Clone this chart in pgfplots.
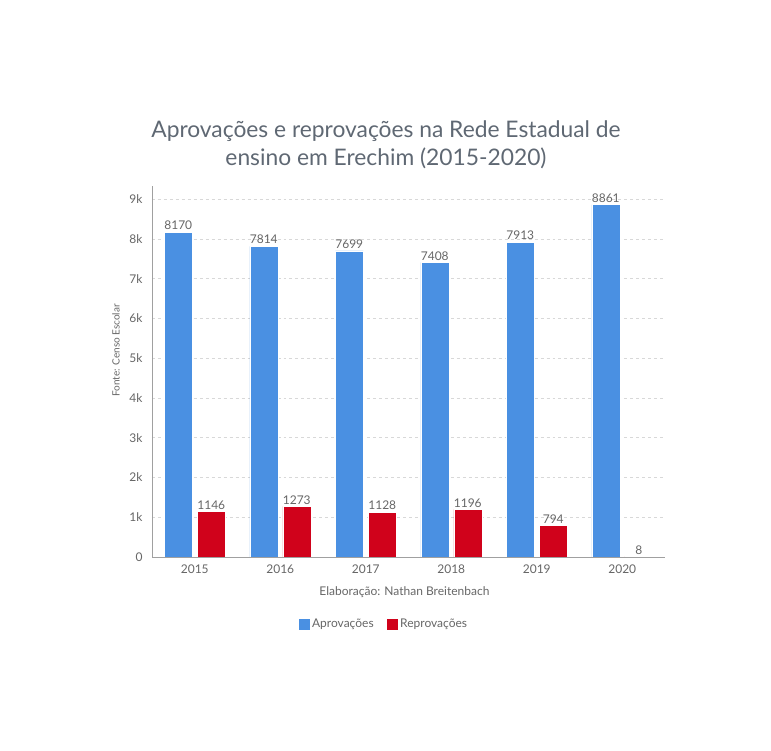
\documentclass[border=0pt]{standalone}
\usepackage{pgfplots}
\pgfplotsset{compat=1.18}
\usepackage{fontspec}
\setmainfont{Lato}
\definecolor{cblue}{HTML}{4A90E2}
\definecolor{cred}{HTML}{D0021B}
\definecolor{ctext}{HTML}{666666}
\definecolor{ctitle}{HTML}{5F6873}
\definecolor{cgrid}{HTML}{D8D8D8}
\definecolor{caxis}{HTML}{A0A0A0}
\begin{document}
\begin{tikzpicture}
\useasboundingbox (0,0) rectangle (771bp,751bp);
\node[ctitle, font=\fontsize{22.8bp}{28bp}\selectfont, align=center] at (386bp,606bp) {Aprovações e reprovações na Rede Estadual de\\ensino em Erechim (2015-2020)};
\begin{axis}[
  at={(152bp,194bp)}, anchor=south west, scale only axis,
  width=513bp, height=371bp,
  xmin=-0.5, xmax=5.5, ymin=0, ymax=9330,
  ybar, bar width=28bp,
  xtick={0,1,2,3,4,5}, xticklabels={2015,2016,2017,2018,2019,2020},
  ytick={0,1000,2000,3000,4000,5000,6000,7000,8000,9000},
  yticklabels={0,1k,2k,3k,4k,5k,6k,7k,8k,9k},
  axis x line*=bottom, axis y line*=left,
  major tick length=0pt,
  ymajorgrids, grid style={cgrid, dashed, line width=0.6bp},
  axis line style={caxis, line width=0.8bp},
  tick label style={ctext, font=\fontsize{12bp}{14bp}\selectfont},
  yticklabel style={xshift=-6bp},
  xticklabel style={yshift=-4bp},
  xlabel={Elaboração: Nathan Breitenbach},
  xlabel style={at={(axis description cs:0.492,-0.094)}, anchor=center, ctext, font=\fontsize{12bp}{14bp}\selectfont},
  ylabel={Fonte: Censo Escolar},
  ylabel style={at={(axis description cs:-0.070,0.557)}, anchor=center, rotate=0, ctext, font=\fontsize{10bp}{12bp}\selectfont},
  nodes near coords={\pgfmathprintnumber[1000 sep={},assume math mode=true]{\pgfplotspointmeta}},
  nodes near coords style={ctext, font=\fontsize{12bp}{14bp}\selectfont, inner sep=2bp},
  legend style={at={(0.451,-0.181)}, anchor=center, draw=none, fill=none,
    legend columns=2, font=\fontsize{12bp}{14bp}\selectfont, text=ctext,
    /tikz/every even column/.append style={column sep=10bp}},
  legend image code/.code={\fill[#1] (0bp,-6bp) rectangle (12bp,6bp);},
  legend cell align=left,
]
\addplot[fill=cblue, draw=white, line width=0.5bp, bar shift=-16.5bp] coordinates {(0,8170) (1,7814) (2,7699) (3,7408) (4,7913) (5,8861)};
\addlegendentry{Aprovações}
\addplot[fill=cred, draw=white, line width=0.5bp, bar shift=16.5bp] coordinates {(0,1146) (1,1273) (2,1128) (3,1196) (4,794) (5,8)};
\addlegendentry{Reprovações}
\end{axis}
\end{tikzpicture}
\end{document}
